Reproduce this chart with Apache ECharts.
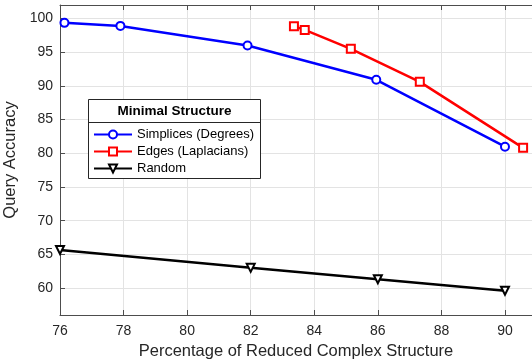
<!DOCTYPE html>
<html>
<head>
<meta charset="utf-8">
<script src="https://cdn.jsdelivr.net/npm/echarts@6/dist/echarts.min.js"></script>
<style>
  html, body { margin: 0; padding: 0; background: #fff; }
  #chart { width: 532px; height: 362px; }
</style>
</head>
<body>
<div id="chart"></div>
<script>
// values
const simplicesX = [76.14, 77.9, 81.9, 85.95, 90.0];
const simplicesY = [99.35, 98.9, 96.0, 90.9, 80.97];
const edgesX = [83.36, 83.7, 85.15, 87.32, 90.57];
const edgesY = [98.85, 98.3, 95.5, 90.6, 80.8];
const randomX = [76.0, 82.0, 86.0, 90.0];
const randomY = [65.65, 63.0, 61.3, 59.6];
const seriesNames = ['Simplices (Degrees)', 'Edges (Laplacians)', 'Random'];
const yTicks = [60, 65, 70, 75, 80, 85, 90, 95, 100];

const zip = (xs, ys) => xs.map((x, i) => [x, ys[i]]);

const el = document.getElementById('chart');
const chart = echarts.init(el, null, { renderer: 'canvas' });

const font = 'Liberation Sans, Arial, Helvetica, sans-serif';
const axisColor = '#262626';

function lineSeries(name, data, color, symbol, rotate) {
  return {
    name,
    type: 'line',
    data,
    symbol,
    symbolSize: 8,
    symbolRotate: rotate || 0,
    showSymbol: true,
    lineStyle: { color, width: 2.5 },
    itemStyle: { color: '#fff', borderColor: color, borderWidth: 2 },
    emphasis: { disabled: true },
    z: 3
  };
}

chart.setOption({
  animation: false,
  textStyle: { fontFamily: font },
  grid: { left: 60, right: 0, top: 5, bottom: 47, containLabel: false, outerBoundsMode: 'none' },
  xAxis: [{
    type: 'value',
    min: 76, max: 90.85, interval: 2,
    name: 'Percentage of Reduced Complex Structure',
    nameLocation: 'middle', nameGap: 27,
    nameTextStyle: { fontSize: 16.5, color: axisColor, fontFamily: font },
    axisLine: { lineStyle: { color: '#4d4d4d', width: 1 } },
    axisTick: { show: true, inside: true, length: 5, lineStyle: { color: '#4d4d4d' } },
    axisLabel: { fontSize: 14, color: axisColor, margin: 9, fontFamily: font,
      showMaxLabel: false },
    splitLine: { show: true, lineStyle: { color: '#e3e3e3', width: 1 } }
  }, {
    type: 'value', position: 'top',
    min: 76, max: 90.85, interval: 2,
    axisLine: { show: true, lineStyle: { color: '#4d4d4d', width: 1 } },
    axisTick: { show: true, inside: true, length: 5, lineStyle: { color: '#4d4d4d' } },
    axisLabel: { show: false },
    splitLine: { show: false }
  }],
  yAxis: {
    type: 'value',
    min: 56, max: 102,
    name: 'Query Accuracy',
    nameLocation: 'middle', nameGap: 37,
    nameTextStyle: { fontSize: 16.5, color: axisColor, fontFamily: font },
    axisLine: { show: true, lineStyle: { color: '#4d4d4d', width: 1 } },
    axisTick: { show: true, inside: true, length: 5, customValues: yTicks,
      lineStyle: { color: '#4d4d4d' } },
    axisLabel: { fontSize: 14, color: axisColor, margin: 7, fontFamily: font,
      customValues: yTicks },
    splitLine: { show: true, lineStyle: { color: '#e3e3e3', width: 1 } }
  },
  legend: {
    orient: 'vertical',
    left: 88, top: 123,
    itemWidth: 38, itemHeight: 10, itemGap: 4,
    data: seriesNames,
    textStyle: { fontSize: 13, color: '#000', fontFamily: font },
    selectedMode: false,
    z: 50
  },
  graphic: [{
    type: 'rect',
    shape: { x: 88.5, y: 99.5, width: 172, height: 79 },
    style: { fill: '#fff', stroke: '#262626', lineWidth: 1 },
    z: 10, silent: true
  }, {
    type: 'line',
    shape: { x1: 88.5, y1: 122.5, x2: 260.5, y2: 122.5 },
    style: { stroke: '#262626', lineWidth: 1 },
    z: 11, silent: true
  }, {
    type: 'text',
    x: 174.5, y: 111,
    style: { text: 'Minimal Structure', fontSize: 13.5, fontWeight: 'bold',
      fill: '#000', font: 'bold 13.5px ' + font, align: 'center', verticalAlign: 'middle' },
    z: 11, silent: true
  }],
  series: [
    lineSeries(seriesNames[0], zip(simplicesX, simplicesY), '#0000ff', 'circle'),
    lineSeries(seriesNames[1], zip(edgesX, edgesY), '#ff0000', 'rect'),
    lineSeries(seriesNames[2], zip(randomX, randomY), '#000000', 'triangle', 180)
  ]
});
</script>
</body>
</html>
